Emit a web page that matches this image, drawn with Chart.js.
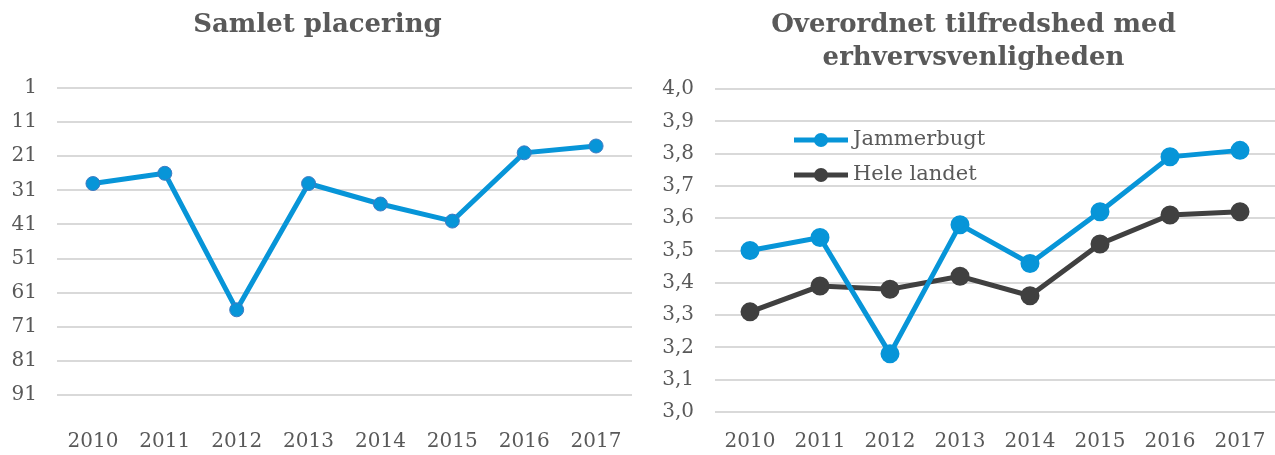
<!DOCTYPE html>
<html>
<head>
<meta charset="utf-8">
<script src="https://cdn.jsdelivr.net/npm/chart.js@4"></script>
<style>
  body { margin: 0; background: #fff; overflow: hidden; }
  #wrap { position: relative; width: 1275px; height: 455px; overflow: hidden; }
  #chart-placering { position: absolute; left: 0; top: 0; }
  #chart-tilfreds { position: absolute; left: 656px; top: 0; }
</style>
</head>
<body>
<div id="wrap">
  <canvas id="chart-placering" width="640" height="455"></canvas>
  <canvas id="chart-tilfreds" width="635" height="455"></canvas>
</div>
<script>
const years = ['2010', '2011', '2012', '2013', '2014', '2015', '2016', '2017'];
const placering = [29, 26, 66, 29, 35, 40, 20, 18];
const placeringTicks = [1, 11, 21, 31, 41, 51, 61, 71, 81, 91];
const jammerbugt = [3.50, 3.54, 3.18, 3.58, 3.46, 3.62, 3.79, 3.81];
const heleLandet = [3.31, 3.39, 3.38, 3.42, 3.36, 3.52, 3.61, 3.62];

const fontFamily = "'DejaVu Serif', 'Liberation Serif', serif";
const textColor = '#595959';
const gridColor = '#d9d9d9';
const blue = '#0795d8';
const dark = '#404040';

Chart.defaults.font.family = fontFamily;
Chart.defaults.color = textColor;

// legend drawn inside the plot area, top left
const innerLegend = {
    id: 'innerLegend',
    afterDraw(chart, args, opts) {
        const ctx = chart.ctx;
        const x0 = chart.chartArea.left + opts.x;
        chart.data.datasets.forEach((ds, i) => {
            const y = chart.chartArea.top + opts.y + i * opts.gap;
            ctx.save();
            ctx.strokeStyle = ds.borderColor;
            ctx.lineWidth = ds.borderWidth;
            ctx.beginPath();
            ctx.moveTo(x0, y);
            ctx.lineTo(x0 + opts.len, y);
            ctx.stroke();
            ctx.fillStyle = ds.pointBackgroundColor;
            ctx.beginPath();
            ctx.arc(x0 + opts.len / 2, y, ds.pointRadius, 0, Math.PI * 2);
            ctx.fill();
            ctx.fillStyle = textColor;
            ctx.font = opts.font;
            ctx.textBaseline = 'middle';
            ctx.fillText(ds.label, x0 + opts.len + 5, y);
            ctx.restore();
        });
    }
};

// nudge the title block sideways
const titleShift = {
    id: 'titleShift',
    afterLayout(chart, args, opts) {
        if (chart.titleBlock) {
            chart.titleBlock.left += opts.dx;
            chart.titleBlock.right += opts.dx;
        }
    }
};

new Chart(document.getElementById('chart-placering'), {
    type: 'line',
    data: {
        labels: years,
        datasets: [{
            label: 'Samlet placering',
            data: placering,
            borderColor: blue,
            borderWidth: 5,
            pointRadius: 7,
            pointBackgroundColor: blue,
            pointBorderColor: '#3f7bc2',
            pointBorderWidth: 1,
            tension: 0
        }]
    },
    options: {
        responsive: false,
        animation: false,
        layout: { padding: { left: 0, right: 5, top: 0, bottom: 0 } },
        plugins: {
            legend: { display: false },
            tooltip: { enabled: false },
            title: {
                display: true,
                text: 'Samlet placering',
                color: textColor,
                font: { size: 26, weight: 'bold', lineHeight: '33px' },
                padding: { top: 8.5, bottom: 46.5 }
            }
        },
        scales: {
            x: {
                offset: true,
                afterFit: (scale) => { scale.height = 36; },
                grid: { display: false, drawTicks: false },
                border: { display: false },
                ticks: { font: { size: 20 }, padding: 11, maxRotation: 0 }
            },
            y: {
                reverse: true,
                min: 1,
                max: 98,
                afterBuildTicks: (scale) => { scale.ticks = placeringTicks.map(v => ({ value: v })); },
                afterFit: (scale) => { scale.width = 57; },
                grid: { color: gridColor, lineWidth: 2, drawTicks: false },
                border: { display: false },
                ticks: { font: { size: 20 }, padding: 20 }
            }
        }
    }
});

new Chart(document.getElementById('chart-tilfreds'), {
    type: 'line',
    data: {
        labels: years,
        datasets: [
            {
                label: 'Jammerbugt',
                data: jammerbugt,
                borderColor: blue,
                borderWidth: 5,
                pointRadius: 7,
                pointBackgroundColor: blue,
                pointBorderColor: blue,
                tension: 0
            },
            {
                label: 'Hele landet',
                data: heleLandet,
                borderColor: dark,
                borderWidth: 5,
                pointRadius: 7,
                pointBackgroundColor: dark,
                pointBorderColor: dark,
                tension: 0
            }
        ]
    },
    options: {
        responsive: false,
        animation: false,
        layout: { padding: { left: 0, right: 16, top: 0, bottom: 0 } },
        plugins: {
            legend: { display: false },
            tooltip: { enabled: false },
            title: {
                display: true,
                text: ['Overordnet tilfredshed med', 'erhvervsvenligheden'],
                color: textColor,
                font: { size: 26, weight: 'bold', lineHeight: '33px' },
                padding: { top: 8.5, bottom: 14.5 }
            },
            titleShift: { dx: 8 },
            innerLegend: { x: 79, y: 51, gap: 35, len: 54, font: '21px ' + fontFamily }
        },
        scales: {
            x: {
                offset: true,
                afterFit: (scale) => { scale.height = 43; },
                grid: { display: false, drawTicks: false },
                border: { display: false },
                ticks: { font: { size: 20 }, padding: 18, maxRotation: 0 }
            },
            y: {
                min: 3.0,
                max: 4.0,
                afterFit: (scale) => { scale.width = 59; },
                grid: { color: gridColor, lineWidth: 2, drawTicks: false },
                border: { display: false },
                ticks: {
                    stepSize: 0.1,
                    font: { size: 20 },
                    padding: 21,
                    callback: (v) => Number(v).toFixed(1).replace('.', ',')
                }
            }
        }
    },
    plugins: [innerLegend, titleShift]
});
</script>
</body>
</html>
